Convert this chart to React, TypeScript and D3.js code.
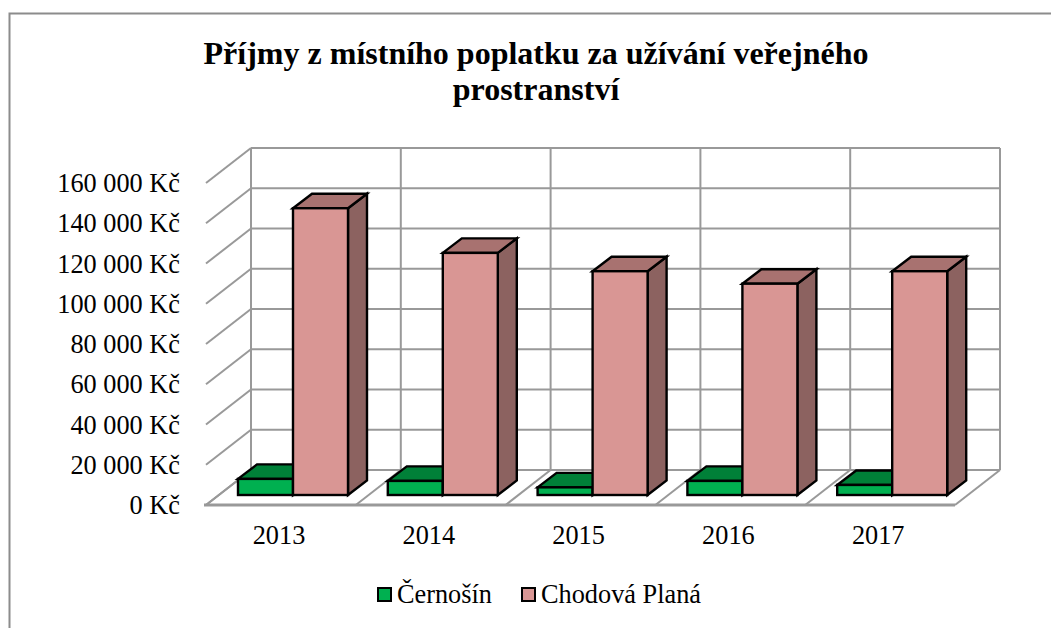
import React from "react";
import * as d3 from "d3";

const years = ["2013", "2014", "2015", "2016", "2017"];
const cernosin = [8000, 7000, 3800, 7000, 5000];
const chodova = [142500, 120300, 111200, 105000, 111200];
const yTicks = [0, 20000, 40000, 60000, 80000, 100000, 120000, 140000, 160000];
const titleLines = ["Příjmy z místního poplatku za užívání veřejného", "prostranství"];
const seriesNames = ["Černošín", "Chodová Planá"];
const colors = ["#00b050", "#d99694"];
const topColors = ["#008038", "#a87270"];
const sideColors = ["#006a2e", "#8c6260"];

const FONT = "'Liberation Serif', 'Times New Roman', serif";
const GRID = "#999999";

const fmt = (v: number) => d3.format(",")(v).replace(/,/g, " ") + " Kč";

export default function App() {
  const wallX = d3.scaleBand<string>().domain(years).range([251, 1000]);
  const wallY = d3.scaleLinear().domain([0, 160000]).range([470, 148]);
  const dx = 45;
  const dy = 35;
  const barBase = 495;
  const barW = 55;
  const barDx = 19;
  const barDy = 14.5;
  const h = (v: number) => wallY(0) - wallY(v);
  const edges = [...years.map((y) => wallX(y) as number), wallX.range()[1]];

  const bar = (x: number, v: number, s: number) => {
    const top = barBase - h(v);
    const o = { stroke: "#000", strokeWidth: 2.4, strokeLinejoin: "miter" as const };
    return (
      <g key={`${x}-${s}`}>
        <path
          d={`M${x + barW},${barBase}L${x + barW + barDx},${barBase - barDy}L${x + barW + barDx},${top - barDy}L${x + barW},${top}Z`}
          fill={sideColors[s]}
          {...o}
        />
        <path
          d={`M${x},${top}L${x + barDx},${top - barDy}L${x + barW + barDx},${top - barDy}L${x + barW},${top}Z`}
          fill={topColors[s]}
          {...o}
        />
        <rect x={x} y={top} width={barW} height={h(v)} fill={colors[s]} {...o} />
      </g>
    );
  };

  return (
    <svg
      width={1051}
      height={628}
      style={{ position: "absolute", left: 0, top: 0, background: "#fff" }}
      fontFamily={FONT}
    >
      <path d="M9.5,628V13.5H1051" fill="none" stroke="#8c8c8c" strokeWidth={2} />
      {titleLines.map((t, i) => (
        <text key={t} x={536} y={64 + i * 36} textAnchor="middle" fontSize={32} fontWeight="bold" fill="#000">
          {t}
        </text>
      ))}

      {yTicks.map((t) => (
        <g key={t}>
          <line x1={251} x2={1000} y1={wallY(t)} y2={wallY(t)} stroke={GRID} strokeWidth={2} />
          <line x1={251 - dx} x2={251} y1={wallY(t) + dy} y2={wallY(t)} stroke={GRID} strokeWidth={2} />
          <text x={180} y={wallY(t) + dy + 9} textAnchor="end" fontSize={26.3} fill="#000">
            {fmt(t)}
          </text>
        </g>
      ))}
      {edges.map((x) => (
        <g key={x}>
          <line x1={x} x2={x} y1={148} y2={470} stroke={GRID} strokeWidth={2} />
          <line x1={x - dx} x2={x} y1={505} y2={470} stroke={GRID} strokeWidth={2} />
        </g>
      ))}
      <line x1={204} x2={955} y1={505} y2={505} stroke={GRID} strokeWidth={3} />

      {years.map((y, i) => {
        const x0 = (wallX(y) as number) - 13;
        return (
          <g key={y}>
            {bar(x0, cernosin[i], 0)}
            {bar(x0 + barW, chodova[i], 1)}
            <text x={x0 + 41} y={544} textAnchor="middle" fontSize={26.3} fill="#000">
              {y}
            </text>
          </g>
        );
      })}

      {seriesNames.map((n, i) => {
        const lx = [378, 522][i];
        return (
          <g key={n}>
            <rect x={lx} y={588} width={13} height={13} fill={colors[i]} stroke="#000" strokeWidth={2} />
            <text x={lx + 19} y={603} fontSize={26.3} fill="#000">
              {n}
            </text>
          </g>
        );
      })}
    </svg>
  );
}
